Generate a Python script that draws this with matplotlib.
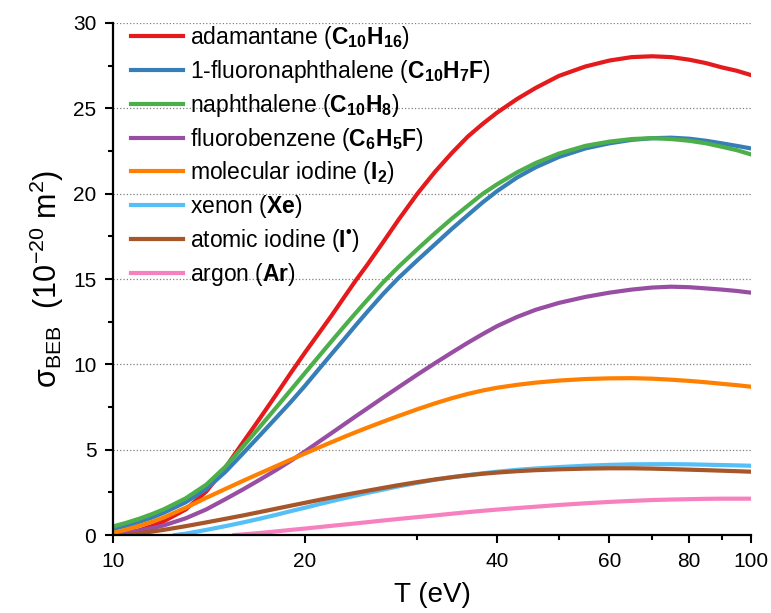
import numpy as np
import matplotlib.pyplot as plt
from matplotlib.ticker import FixedLocator, NullFormatter

plt.rcParams['font.family'] = ['Liberation Sans', 'DejaVu Sans']
plt.rcParams['mathtext.fontset'] = 'custom'
plt.rcParams['mathtext.rm'] = 'Liberation Sans'
plt.rcParams['mathtext.bf'] = 'Liberation Sans:bold'
plt.rcParams['mathtext.it'] = 'Liberation Sans:italic'

# electron energy T (eV)
T = [10, 10.5, 11, 11.5, 12, 13, 14, 15, 16, 17, 18, 19, 20, 21, 22, 23, 24, 25,
     26.5, 28, 30, 32, 34, 36, 38, 40, 43, 46, 50, 55, 60, 65, 70, 75, 80, 85, 90, 95, 100]

adamantane = [0.0, 0.1, 0.28, 0.52, 0.8, 1.5, 2.55, 3.95, 5.45, 6.85, 8.2, 9.5, 10.7, 11.8,
              12.85, 13.9, 14.9, 15.8, 17.15, 18.45, 20.0, 21.3, 22.4, 23.35, 24.1, 24.75,
              25.55, 26.2, 26.9, 27.45, 27.8, 28.0, 28.05, 28.0, 27.85, 27.65, 27.4, 27.2, 26.95]
fluoronaphthalene = [0.35, 0.55, 0.77, 1.02, 1.3, 1.92, 2.7, 3.7, 4.8, 5.85, 6.85, 7.8, 8.75,
                     9.7, 10.6, 11.45, 12.28, 13.05, 14.12, 15.05, 16.1, 17.05, 17.95, 18.75,
                     19.5, 20.15, 20.95, 21.55, 22.15, 22.65, 22.95, 23.15, 23.25, 23.28, 23.22,
                     23.1, 22.95, 22.8, 22.65]
naphthalene = [0.5, 0.72, 0.96, 1.22, 1.5, 2.15, 2.95, 4.0, 5.2, 6.35, 7.45, 8.5, 9.5, 10.45,
               11.35, 12.2, 13.0, 13.75, 14.8, 15.7, 16.75, 17.7, 18.55, 19.3, 20.0, 20.55,
               21.25, 21.8, 22.35, 22.8, 23.05, 23.2, 23.25, 23.2, 23.1, 22.95, 22.75, 22.55, 22.3]
fluorobenzene = [0.05, 0.14, 0.26, 0.4, 0.56, 0.98, 1.5, 2.1, 2.68, 3.25, 3.8, 4.35, 4.9, 5.45,
                 5.97, 6.47, 6.95, 7.4, 8.05, 8.65, 9.4, 10.08, 10.7, 11.27, 11.78, 12.24,
                 12.78, 13.2, 13.6, 13.95, 14.2, 14.38, 14.5, 14.55, 14.52, 14.45, 14.38, 14.3, 14.2]
iodine_mol = [0.12, 0.32, 0.54, 0.77, 1.02, 1.6, 2.18, 2.7, 3.18, 3.62, 4.03, 4.42, 4.78, 5.12,
              5.44, 5.74, 6.02, 6.28, 6.64, 6.97, 7.37, 7.72, 8.02, 8.27, 8.47, 8.63,
              8.8, 8.93, 9.05, 9.14, 9.18, 9.19, 9.16, 9.1, 9.03, 8.95, 8.86, 8.78, 8.69]

T_xe = [12.5, 13, 14, 15, 16, 17, 18, 19, 20, 21, 22, 23, 24, 25,
        26.5, 28, 30, 32, 34, 36, 38, 40, 43, 46, 50, 55, 60, 65, 70, 75, 80, 85, 90, 95, 100]
xenon = [0.0, 0.08, 0.3, 0.52, 0.74, 0.96, 1.18, 1.4, 1.6, 1.8, 1.98, 2.15, 2.31, 2.46,
         2.66, 2.85, 3.06, 3.24, 3.39, 3.51, 3.62, 3.71, 3.82, 3.9, 3.98, 4.06, 4.11, 4.14,
         4.15, 4.15, 4.14, 4.12, 4.1, 4.08, 4.06]

T_i = [10.5, 11, 11.5, 12, 13, 14, 15, 16, 17, 18, 19, 20, 21, 22, 23, 24, 25,
       26.5, 28, 30, 32, 34, 36, 38, 40, 43, 46, 50, 55, 60, 65, 70, 75, 80, 85, 90, 95, 100]
iodine_atom = [0.0, 0.1, 0.2, 0.3, 0.52, 0.74, 0.95, 1.15, 1.35, 1.54, 1.72, 1.89, 2.05, 2.2,
               2.34, 2.47, 2.59, 2.76, 2.92, 3.1, 3.26, 3.39, 3.5, 3.59, 3.66, 3.74, 3.8,
               3.85, 3.89, 3.91, 3.91, 3.89, 3.86, 3.83, 3.8, 3.77, 3.74, 3.71]

T_ar = [15.5, 16, 17, 18, 19, 20, 21, 22, 23, 24, 25,
        26.5, 28, 30, 32, 34, 36, 38, 40, 43, 46, 50, 55, 60, 65, 70, 75, 80, 85, 90, 95, 100]
argon = [0.0, 0.04, 0.12, 0.21, 0.3, 0.38, 0.46, 0.54, 0.61, 0.68, 0.75, 0.85, 0.94, 1.05,
         1.15, 1.25, 1.34, 1.42, 1.49, 1.58, 1.66, 1.76, 1.86, 1.94, 2.0, 2.05, 2.08, 2.1,
         2.12, 2.13, 2.13, 2.13]

series = [
    (T, adamantane, '#E41A1C', r'adamantane ($\mathbf{C_{10}H_{16}}$)'),
    (T, fluoronaphthalene, '#377EB8', r'1-fluoronaphthalene ($\mathbf{C_{10}H_{7}F}$)'),
    (T, naphthalene, '#4DAF4A', r'naphthalene ($\mathbf{C_{10}H_{8}}$)'),
    (T, fluorobenzene, '#984EA3', r'fluorobenzene ($\mathbf{C_{6}H_{5}F}$)'),
    (T, iodine_mol, '#FF7F00', r'molecular iodine ($\mathbf{I_{2}}$)'),
    (T_xe, xenon, '#55BFF7', r'xenon ($\mathbf{Xe}$)'),
    (T_i, iodine_atom, '#A65628', r'atomic iodine ($\mathbf{I^{•}}$)'),
    (T_ar, argon, '#F781BF', r'argon ($\mathbf{Ar}$)'),
]

fig = plt.figure(figsize=(7.71, 6.13), dpi=100)
ax = fig.add_axes([0.1466, 0.1272, 0.8274, 0.8353])

for x, y, c, lab in series:
    ax.plot(x, y, color=c, lw=3.0, label=lab, solid_joinstyle='round')

ax.set_xscale('log')
ax.set_xlim(10, 100)
ax.set_ylim(0, 30)

ax.xaxis.set_major_locator(FixedLocator([10, 20, 40, 60, 80, 100]))
ax.xaxis.set_minor_locator(FixedLocator([30, 50, 70, 90]))
ax.xaxis.set_minor_formatter(NullFormatter())
ax.set_xticklabels(['10', '20', '40', '60', '80', '100'])
ax.yaxis.set_major_locator(FixedLocator([0, 5, 10, 15, 20, 25, 30]))
ax.yaxis.set_minor_locator(FixedLocator([2.5, 7.5, 12.5, 17.5, 22.5, 27.5]))

ax.tick_params(which='major', direction='out', length=6, width=1.5, labelsize=15, pad=6)
ax.tick_params(which='minor', direction='out', length=3.5, width=1.5)

for s in ['top', 'right']:
    ax.spines[s].set_visible(False)
for s in ['left', 'bottom']:
    ax.spines[s].set_linewidth(1.6)

ax.yaxis.grid(True, which='major', linestyle=':', color='#808080', lw=0.9)
ax.set_axisbelow(True)

ax.set_xlabel('T (eV)', fontsize=20, labelpad=8)
ax.set_ylabel(r'$\mathrm{σ}_{\mathrm{BEB}}$  (10$^{-20}$ m$^{2}$)', fontsize=22, labelpad=5)

ax.legend(loc='upper left', bbox_to_anchor=(131 / 771, (613 - 24) / 613),
          bbox_transform=fig.transFigure, frameon=False, fontsize=16.5,
          handlelength=2.27, handletextpad=0.3, labelspacing=0.3,
          borderpad=0, borderaxespad=0)

fig.savefig('out.png', dpi=100)
